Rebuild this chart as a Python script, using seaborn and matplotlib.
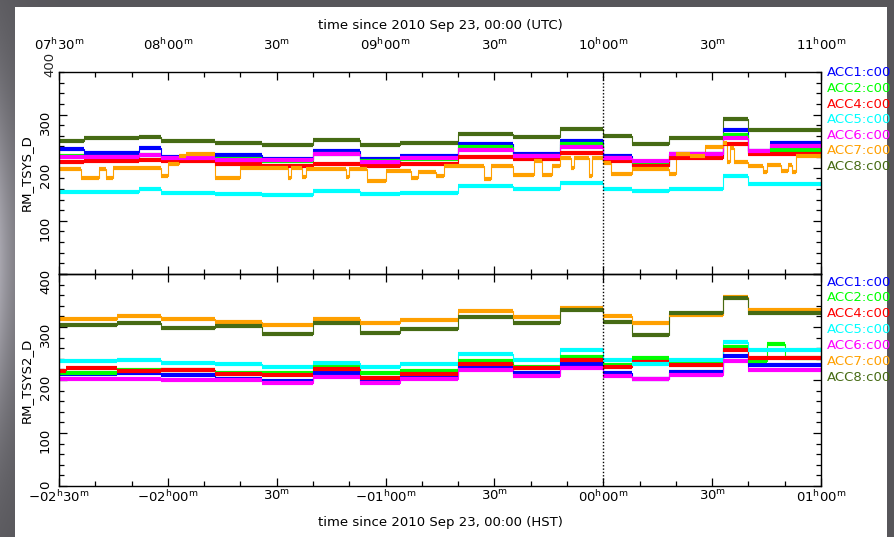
import numpy as np
import pandas as pd
import matplotlib
matplotlib.use("Agg")
import matplotlib.pyplot as plt
from matplotlib.patches import Rectangle
from matplotlib.ticker import MultipleLocator
import seaborn as sns

# ---------------------------------------------------------------- data
channels = ["ACC1:c00", "ACC2:c00", "ACC4:c00", "ACC5:c00",
            "ACC6:c00", "ACC7:c00", "ACC8:c00"]
colors = ["#0000ff", "#00ff00", "#ff0000", "#00ffff",
          "#ff00ff", "#ffa000", "#466b14"]

# time axis: minutes since 07:30 UTC (= -02:30 HST)
x_ticks_min = [0, 30, 60, 90, 120, 150, 180, 210]
utc_labels = ["07^{h}30^{m}", "08^{h}00^{m}", "30^{m}", "09^{h}00^{m}",
              "30^{m}", "10^{h}00^{m}", "30^{m}", "11^{h}00^{m}"]
hst_labels = ["-02^{h}30^{m}", "-02^{h}00^{m}", "30^{m}", "-01^{h}00^{m}",
              "30^{m}", "00^{h}00^{m}", "30^{m}", "01^{h}00^{m}"]

# RM_TSYS_D: piecewise-constant levels between these edges (minutes)
top_edges = [0, 7, 22, 28, 43, 56, 70, 83, 94, 110, 125, 138, 150, 158,
             168, 183, 190, 196, 210]
top_acc1 = [235, 228, 237, 220, 224, 216, 231, 216, 222, 244, 225, 251, 222,
            203, 225, 270, 231, 247]
top_acc2 = [222, 220, 224, 217, 216, 212, 226, 213, 216, 238, 222, 244, 219,
            208, 222, 262, 228, 233]
top_acc4 = [210, 212, 215, 213, 206, 203, 207, 204, 207, 220, 216, 228, 212,
            203, 219, 245, 225, 226]
top_acc5 = [155, 155, 159, 153, 151, 149, 156, 150, 153, 166, 159, 172, 159,
            156, 159, 184, 170, 170]
top_acc6 = [220, 220, 224, 219, 214, 214, 225, 211, 218, 234, 222, 239, 219,
            212, 225, 256, 232, 240]
top_acc8 = [251, 255, 258, 250, 247, 242, 253, 242, 247, 263, 258, 273, 259,
            244, 256, 291, 271, 271]
# ACC7 dips often, so it carries its own change times
top_acc7_t = [0, 6, 11, 13, 15, 28, 30, 33, 35, 43, 50, 63, 64, 67, 68, 79,
              80, 85, 90, 97, 99, 104, 106, 117, 119, 125, 131, 133, 136,
              138, 141, 142, 146, 147, 150, 152, 158, 168, 170, 174, 178,
              183, 184, 185, 186, 190, 194, 195, 199, 201, 202, 203, 210]
top_acc7_v = [197, 181, 197, 181, 200, 184, 206, 222, 225, 181, 200, 180,
              200, 183, 197, 182, 197, 175, 194, 180, 192, 184, 203, 178,
              203, 186, 212, 186, 203, 219, 200, 219, 185, 219, 209, 188,
              197, 188, 225, 222, 238, 247, 210, 237, 210, 203, 191, 205,
              193, 205, 192, 222]

# RM_TSYS2_D
bot_edges = [0, 2, 16, 28, 43, 56, 70, 83, 94, 110, 125, 138, 150, 158,
             168, 183, 190, 195, 200, 210]
bot_acc1 = [211, 211, 213, 209, 202, 198, 214, 198, 207, 225, 214, 231, 214,
            202, 216, 245, 228, 228, 228]
bot_acc2 = [213, 213, 219, 219, 214, 214, 227, 213, 217, 236, 225, 244, 228,
            242, 233, 263, 236, 267, 241]
bot_acc4 = [217, 223, 217, 219, 211, 209, 221, 204, 212, 231, 222, 238, 225,
            234, 228, 257, 241, 241, 241]
bot_acc5 = [235, 235, 238, 233, 230, 225, 233, 225, 231, 250, 238, 257, 238,
            230, 238, 272, 257, 257, 257]
bot_acc6 = [202, 202, 202, 200, 200, 194, 206, 194, 201, 219, 208, 223, 208,
            201, 209, 236, 219, 219, 219]
bot_acc7 = [316, 315, 320, 315, 309, 304, 315, 307, 313, 330, 318, 336, 321,
            307, 322, 356, 332, 332, 332]
bot_acc8 = [303, 303, 307, 299, 301, 286, 308, 288, 296, 319, 307, 332, 310,
            285, 326, 355, 327, 327, 327]


def segments(name, edges, levels):
    """One row pair per constant stretch: (start, level), (end, level)."""
    rows = []
    for k, lev in enumerate(levels):
        rows.append((edges[k], lev, name, f"{name}-{k}", 0))
        rows.append((edges[k + 1], lev, name, f"{name}-{k}", 1))
    return pd.DataFrame(rows, columns=["t", "v", "ch", "seg", "end"])


df_top = pd.concat([
    segments(channels[0], top_edges, top_acc1),
    segments(channels[1], top_edges, top_acc2),
    segments(channels[2], top_edges, top_acc4),
    segments(channels[3], top_edges, top_acc5),
    segments(channels[4], top_edges, top_acc6),
    segments(channels[5], top_acc7_t, top_acc7_v),
    segments(channels[6], top_edges, top_acc8),
], ignore_index=True)

df_bot = pd.concat([
    segments(channels[0], bot_edges, bot_acc1),
    segments(channels[1], bot_edges, bot_acc2),
    segments(channels[2], bot_edges, bot_acc4),
    segments(channels[3], bot_edges, bot_acc5),
    segments(channels[4], bot_edges, bot_acc6),
    segments(channels[5], bot_edges, bot_acc7),
    segments(channels[6], bot_edges, bot_acc8),
], ignore_index=True)

# ---------------------------------------------------------------- figure
sns.set_theme(style="white")
plt.rcParams["font.family"] = ["DejaVu Sans"]
plt.rcParams["mathtext.default"] = "regular"

W, H = 894, 537
fig = plt.figure(figsize=(W / 100, H / 100), dpi=100)
fig.patch.set_facecolor("#58565b")

# slate backdrop with a lighter glow on the left edge
bg = fig.add_axes([0, 0, 1, 1], zorder=-10)
yy, xx = np.mgrid[0:H, 0:W]
shade = 88 + 80 * np.exp(-((yy - 260) / 170.0) ** 2) * np.exp(-xx / 25.0)
shade = np.clip(shade, 0, 255) / 255.0
bg.imshow(np.dstack([shade * 0.99, shade * 0.98, shade * 1.03]).clip(0, 1),
          aspect="auto", extent=[0, 1, 0, 1], origin="upper")
bg.axis("off")
fig.patches.append(Rectangle((15 / W, 0), (887 - 15) / W, (H - 7) / H,
                             transform=fig.transFigure, facecolor="white",
                             edgecolor="none", zorder=-5))


def px(x0, y0, x1, y1):
    return [x0 / W, 1 - y1 / H, (x1 - x0) / W, (y1 - y0) / H]


ax1 = fig.add_axes(px(59, 72, 821, 274))
ax2 = fig.add_axes(px(59, 274, 821, 486))

FS = 9.5
for ax, df, ylab in ((ax1, df_top, "RM_TSYS_D"), (ax2, df_bot, "RM_TSYS2_D")):
    ax.set_facecolor("none")
    # thin joins between successive levels: step line through segment starts
    starts = df[df["end"] == 0]
    last = df.groupby("ch", sort=False).tail(1)
    sns.lineplot(data=pd.concat([starts, last]), x="t", y="v", hue="ch",
                 hue_order=channels, palette=colors, estimator=None,
                 sort=True, drawstyle="steps-post", lw=0.8, legend=False,
                 ax=ax)
    # thick constant stretches
    sns.lineplot(data=df, x="t", y="v", hue="ch", hue_order=channels,
                 palette=colors, units="seg", estimator=None, sort=False,
                 lw=3.0, solid_capstyle="butt", legend=False, ax=ax)
    ax.axvline(150, color="black", lw=1.0, ls=(0, (1, 1.4)), zorder=5)
    ax.set_xlim(0, 210)
    ax.set_xticks(x_ticks_min)
    ax.xaxis.set_minor_locator(MultipleLocator(10))
    ax.yaxis.set_minor_locator(MultipleLocator(20))
    ax.tick_params(which="both", direction="in", top=True, bottom=True,
                   left=True, right=True, color="black", width=0.9,
                   labelsize=FS, labelcolor="black")
    ax.tick_params(which="major", length=6)
    ax.tick_params(which="minor", length=3.5)
    ax.tick_params(axis="y", labelrotation=90, pad=5)
    for s in ax.spines.values():
        s.set_color("black")
        s.set_linewidth(1.0)
    ax.set_xlabel("")
    ax.set_ylabel(ylab, fontsize=FS, color="black")
    ax.yaxis.set_label_coords(-0.034, 0.5)

# upper panel: UTC labels on top
ax1.set_ylim(0, 380)
ax1.set_yticks([0, 100, 200, 300])
ax1.set_yticklabels(["", "100", "200", "300"])
ax1.text(-0.0125, 395, "400", transform=ax1.get_yaxis_transform(),
         rotation=90, ha="center", va="center", fontsize=FS, clip_on=False)
ax1.tick_params(axis="x", labeltop=True, labelbottom=False, pad=14)
ax1.set_xticklabels(["$" + s + "$" for s in utc_labels])
ax1.set_title("time since 2010 Sep 23, 00:00 (UTC)", fontsize=FS,
              color="black", pad=31)

# lower panel: HST labels below
ax2.set_ylim(0, 400)
ax2.set_yticks([0, 100, 200, 300, 400])
ax2.tick_params(axis="x", labeltop=False, labelbottom=True, pad=2)
ax2.set_xticklabels(["$" + s + "$" for s in hst_labels])
ax2.set_xlabel("time since 2010 Sep 23, 00:00 (HST)", fontsize=FS,
               color="black", labelpad=8)

# channel keys to the right of each panel
for i, (name, c) in enumerate(zip(channels, colors)):
    fig.text(827 / W, 1 - (73 + 15.6 * i) / H, name, color=c, fontsize=FS,
             ha="left", va="center")
    fig.text(827 / W, 1 - (282 + 15.9 * i) / H, name, color=c, fontsize=FS,
             ha="left", va="center")

fig.savefig("out.png", dpi=100, facecolor=fig.get_facecolor())
